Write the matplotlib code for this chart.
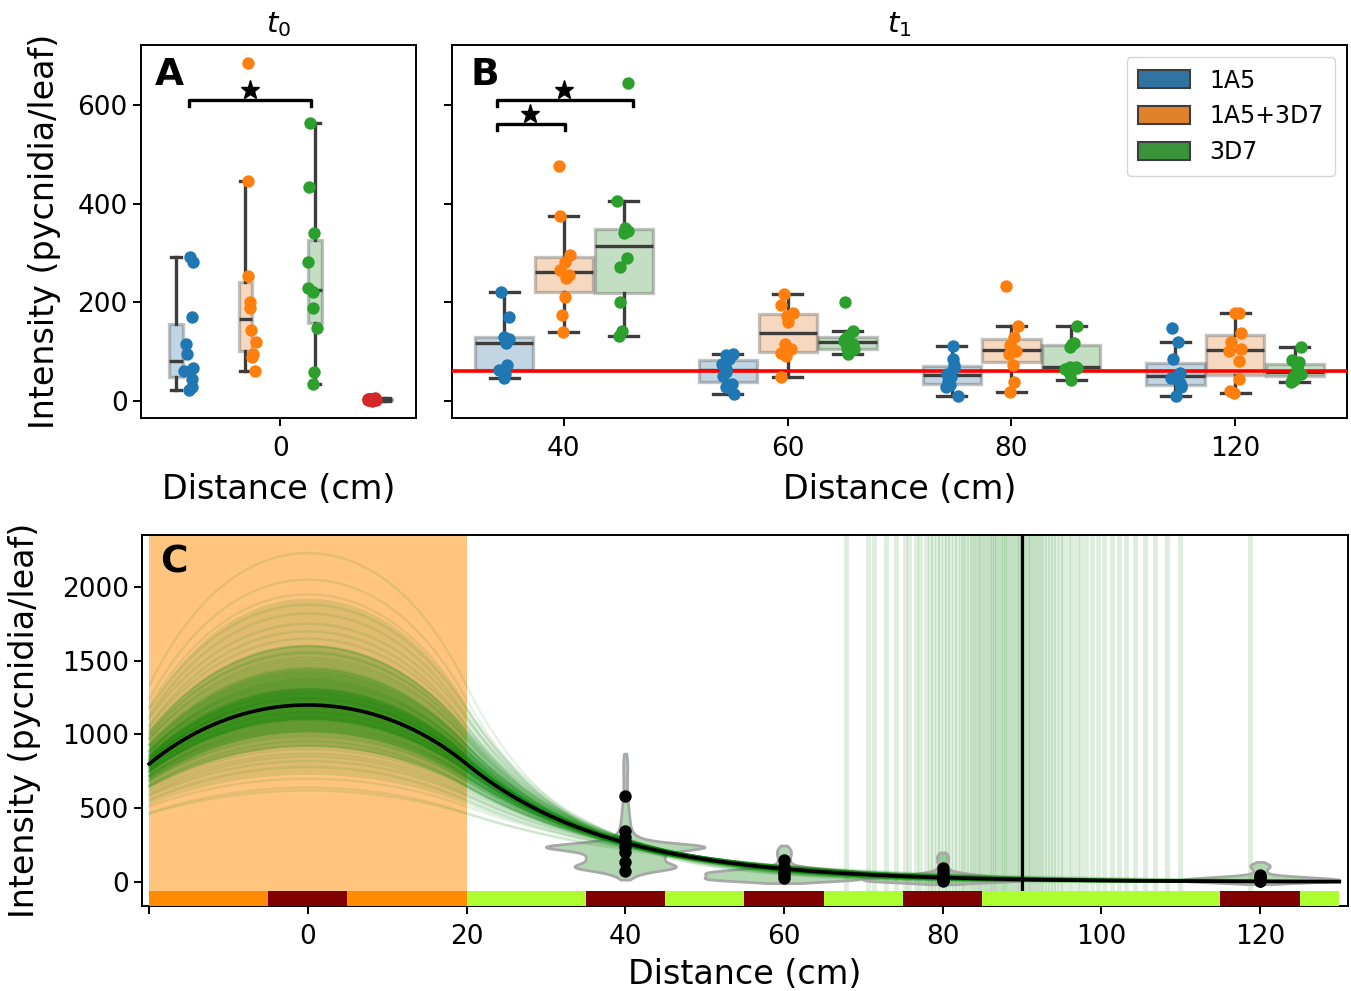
import numpy as np
import matplotlib.pyplot as plt
from matplotlib.colors import to_rgba
from matplotlib.patches import Patch

plt.rcParams['font.family'] = 'DejaVu Sans'
plt.rcParams['axes.linewidth'] = 1.4
plt.rcParams['xtick.major.width'] = 1.4
plt.rcParams['ytick.major.width'] = 1.4
plt.rcParams['xtick.major.size'] = 6
plt.rcParams['ytick.major.size'] = 6
plt.rcParams['xtick.major.pad'] = 7
plt.rcParams['xtick.labelsize'] = 19
plt.rcParams['ytick.labelsize'] = 19
plt.rcParams['axes.labelsize'] = 24

# ---- panel A : t0, all at distance 0 ----
strains = ['1A5', '1A5+3D7', '3D7']
t0_1a5 = [291, 282, 169, 115, 95, 66, 60, 44, 27, 22]
t0_mix = [686, 445, 253, 201, 189, 144, 119, 95, 89, 61]
t0_3d7 = [564, 434, 340, 282, 228, 220, 189, 147, 59, 34]
t0_ctrl = [2, 4, 1, 3, 5, 2, 0, 3, 1, 4]

# ---- panel B : t1 at 40/60/80/120 cm ----
t1_labels = ['40', '60', '80', '120']
t1_1a5 = [[220, 170, 130, 126, 117, 73, 63, 54, 47],
          [95, 92, 85, 75, 65, 58, 50, 35, 27, 14],
          [111, 84, 73, 66, 55, 48, 40, 32, 27, 9],
          [147, 120, 84, 57, 53, 46, 37, 30, 28, 10]]
t1_mix = [[476, 374, 296, 282, 266, 255, 249, 211, 174, 140],
          [216, 195, 178, 172, 160, 115, 105, 97, 91, 49],
          [232, 152, 130, 114, 105, 100, 95, 72, 38, 17],
          [179, 178, 137, 120, 105, 100, 80, 44, 20, 16]]
t1_3d7 = [[645, 405, 350, 345, 340, 289, 271, 200, 142, 132],
          [200, 142, 131, 125, 122, 115, 108, 105, 100, 95],
          [151, 118, 115, 110, 69, 68, 67, 65, 55, 43],
          [109, 82, 78, 68, 60, 58, 55, 48, 42, 38]]
threshold = 60

# ---- panel C : dispersal gradient ----
c_dist = [40, 60, 80, 120]
c_obs = [[584, 347, 306, 272, 239, 205, 138, 74],
         [149, 104, 70, 47, 25],
         [95, 70, 50, 35, 20, 10, 5],
         [50, 35, 25, 15, 8, 3]]
c_violin = [[30, 42, 52, 60, 67, 73, 78, 82, 86, 89, 92, 95, 98, 101, 104, 107, 110, 113,
             116, 120, 124, 128, 132, 136, 140, 144, 148, 152, 156, 160, 164, 168, 172,
             176, 180, 184, 188, 192, 196, 200, 203, 206, 209, 212, 215, 218, 221, 223,
             225, 227, 229, 231, 233, 235, 237, 239, 241, 243, 245, 247, 249, 251, 253,
             255, 258, 261, 264, 268, 272, 277, 283, 290, 298, 310, 325, 345, 370, 400,
             435, 475, 520, 590, 680, 770, 835],
            [2, 6, 10, 14, 18, 22, 26, 30, 34, 38, 42, 46, 50, 54, 58, 62, 66, 70, 74,
             79, 85, 92, 100, 130, 180, 222],
            [-8, -4, 0, 3, 6, 9, 12, 15, 18, 21, 24, 27, 30, 34, 38, 43, 49, 56, 64, 92,
             140, 180],
            [-8, -4, 0, 3, 6, 9, 12, 15, 18, 21, 24, 28, 32, 37, 43, 66, 100, 118]]
c_bw = [14, 10, 8, 7]

peaks = [1200, 1150, 1250, 1100, 1300, 1050, 1350, 1180, 1220, 1120,
         1280, 1080, 1320, 1010, 1400, 1160, 1240, 960, 1450, 1140,
         1260, 1030, 1370, 1190, 1210, 990, 1480, 1130, 1270, 1060,
         1330, 1170, 930, 1520, 1090, 1290, 1230, 1020, 1420, 1110,
         1310, 1200, 900, 1560, 1070, 1340, 1150, 1250, 980, 1380,
         870, 1600, 1040, 1460, 1190, 850, 1650, 1000, 1500, 1120,
         820, 1700, 950, 1550, 780, 1750, 1280, 920, 1820, 700,
         1880, 1360, 640, 1950, 1100, 2050, 620, 2230, 1240, 1600]
decays = [18.0, 19.3, 17.2, 19.8, 16.9, 20.4, 17.6, 17.9, 18.7, 18.4,
          18.1, 18.9, 16.6, 20.9, 17.3, 18.0, 18.5, 20.1, 15.8, 19.5,
          17.1, 20.6, 16.3, 18.9, 17.5, 21.1, 16.7, 18.3, 18.2, 19.0,
          16.5, 19.2, 21.9, 15.2, 19.9, 16.9, 18.6, 19.4, 17.1, 18.5,
          17.9, 18.8, 22.3, 15.0, 18.9, 17.7, 18.1, 17.2, 21.2, 16.2,
          22.8, 14.9, 20.5, 15.7, 17.7, 21.8, 15.6, 19.7, 16.6, 19.6,
          23.5, 14.3, 20.2, 16.2, 22.9, 15.1, 16.9, 22.0, 13.8, 25.9,
          14.4, 16.4, 25.8, 13.2, 19.8, 12.7, 27.9, 12.2, 18.4, 16.0]
mean_peak = 1200
mean_decay = 18.2
source_half = 20

front_samples = [67.8, 70.6, 71.4, 72.9, 74.1, 75.3, 75.8, 76.6, 77.2, 77.9, 78.4, 78.8,
                 79.3, 79.7, 80.2, 80.6, 80.9, 81.4, 81.8, 82.3, 82.6, 83.0, 83.3, 83.7,
                 84.0, 84.3, 84.6, 84.9, 85.2, 85.5, 85.8, 86.1, 86.4, 86.6, 86.9, 87.2,
                 87.5, 87.7, 88.0, 88.3, 88.6, 88.9, 89.2, 89.5, 89.8, 90.3, 90.6, 90.9,
                 91.2, 91.5, 91.8, 92.1, 92.4, 92.8, 93.1, 93.5, 93.9, 94.3, 94.8, 95.2,
                 95.8, 96.3, 96.9, 97.4, 98.1, 98.8, 99.6, 100.4, 101.3, 102.2, 103.1,
                 104.2, 105.5, 106.8, 108.3, 109.9, 118.8]
front_mean = 90

strip_edges = [-20, -5, 5, 20, 35, 45, 55, 65, 75, 85, 115, 125, 130]
strip_colors = ['darkorange', 'maroon', 'darkorange', 'greenyellow', 'maroon', 'greenyellow',
                'maroon', 'greenyellow', 'maroon', 'greenyellow', 'maroon', 'greenyellow']

dot_colors = ['#1f77b4', '#ff7f0e', '#2ca02c', '#d62728']
box_colors = ['#3274a1', '#e1812c', '#3a923a', '#c03d3e']
line_grey = '#3d3d3d'

rng = np.random.default_rng(7)  # only used for strip jitter


def boxes(ax, data, pos, width, color, capw):
    bp = ax.boxplot(data, positions=pos, widths=width, patch_artist=True, showfliers=False,
                    manage_ticks=False, capwidths=capw,
                    boxprops=dict(linewidth=2.4),
                    medianprops=dict(color=line_grey, linewidth=2.4),
                    whiskerprops=dict(color=line_grey, linewidth=2.4),
                    capprops=dict(color=line_grey, linewidth=2.4))
    for b in bp['boxes']:
        b.set_facecolor(to_rgba(color, 0.3))
        b.set_edgecolor(to_rgba(line_grey, 0.3))
        b.set_zorder(2)


def strip(ax, x, vals, color, spread):
    xs = x + rng.uniform(-spread, spread, len(vals))
    ax.scatter(xs, vals, s=80, color=color, linewidths=0, zorder=4)


def bracket(ax, x1, x2, y, h, star_x):
    ax.plot([x1, x1, x2, x2], [y - h, y, y, y - h], color='black', lw=2.4, zorder=5)
    ax.plot(star_x, y + 20, marker='*', color='black', ms=14, zorder=5)


def gradient(x, peak, L, s=source_half):
    ax_ = np.abs(x)
    inside = 2 - np.exp(-(x + s) / L) - np.exp(-(s - x) / L)
    outside = np.exp(-(ax_ - s) / L) - np.exp(-(ax_ + s) / L)
    shape = np.where(ax_ <= s, inside, outside)
    return peak * shape / (2 - 2 * np.exp(-s / L))


def adaptive_kde(v, grid, h0):
    # Abramson-style: wider kernels where the pilot density is low
    pilot = np.exp(-0.5 * ((v[:, None] - v[None, :]) / h0) ** 2).sum(axis=1) / h0
    h = h0 * np.sqrt(pilot.max() / pilot)
    k = np.exp(-0.5 * ((grid[:, None] - v[None, :]) / h[None, :]) ** 2) / h[None, :]
    return k.sum(axis=1)


fig = plt.figure(figsize=(13.51, 9.91), dpi=100)
axA = fig.add_axes([0.1044, 0.5782, 0.2036, 0.3764])
axB = fig.add_axes([0.3346, 0.5782, 0.6625, 0.3764])
axC = fig.add_axes([0.1051, 0.0858, 0.8927, 0.3744])

# ---------- A ----------
a_groups = [t0_1a5, t0_mix, t0_3d7, t0_ctrl]
a_box_pos = [-0.3, -0.1, 0.1, 0.3]
a_dot_pos = [-0.262, -0.086, 0.094, 0.266]
for i, g in enumerate(a_groups):
    boxes(axA, [g], [a_box_pos[i]], 0.04, box_colors[i], 0.03)
    strip(axA, a_dot_pos[i], g, dot_colors[i], 0.015)
bracket(axA, -0.262, 0.089, 611, 12, -0.086)
axA.set_xlim(-0.4, 0.39)
axA.set_ylim(-35, 722)
axA.set_xticks([0])
axA.set_xticklabels(['0'])
axA.set_yticks([0, 200, 400, 600])
axA.set_xlabel('Distance (cm)', labelpad=8)
axA.set_ylabel('Intensity (pycnidia/leaf)', labelpad=12)
axA.set_title('$t_0$', fontsize=21, pad=9)
axA.text(0.05, 0.893, 'A', transform=axA.transAxes, fontsize=27, fontweight='bold')

# ---------- B ----------
offs = [-0.267, 0, 0.267]
x_cat = np.arange(len(t1_labels))
for i, grp in enumerate([t1_1a5, t1_mix, t1_3d7]):
    boxes(axB, grp, x_cat + offs[i], 0.26, box_colors[i], 0.13)
    for j, vals in enumerate(grp):
        strip(axB, x_cat[j] + offs[i], vals, dot_colors[i], 0.03)
axB.axhline(threshold, color='red', lw=2.6, zorder=3)
bracket(axB, -0.30, 0.307, 610, 12, 0.0)
bracket(axB, -0.30, 0.005, 561, 12, -0.15)
axB.set_xlim(-0.5, 3.5)
axB.set_ylim(-35, 722)
axB.set_xticks(x_cat)
axB.set_xticklabels(t1_labels)
axB.set_yticks([0, 200, 400, 600])
axB.set_yticklabels([])
axB.set_xlabel('Distance (cm)', labelpad=8)
axB.set_title('$t_1$', fontsize=21, pad=9)
axB.text(0.021, 0.893, 'B', transform=axB.transAxes, fontsize=27, fontweight='bold')
handles = [Patch(facecolor=box_colors[i], edgecolor=line_grey, lw=1.5, label=strains[i])
           for i in range(3)]
axB.legend(handles=handles, loc='upper right', fontsize=17, handlelength=2.2,
           handleheight=0.8, borderpad=0.5)

# ---------- C ----------
axC.axvspan(-source_half, source_half, color='darkorange', alpha=0.5, lw=0, zorder=0)
for xf in front_samples:
    axC.axvline(xf, color='green', alpha=0.13, lw=3.5, zorder=1)
axC.axvline(front_mean, color='black', lw=2.4, zorder=3)

for pos, vals, bw in zip(c_dist, c_violin, c_bw):
    v = np.asarray(vals, float)
    grid = np.linspace(v.min() - bw, v.max() + 2.5 * bw, 500)
    dens = adaptive_kde(v, grid, bw)
    dens = dens / dens.max() * 10
    axC.fill_betweenx(grid, pos - dens, pos + dens, facecolor=to_rgba('green', 0.3),
                      edgecolor='#a8a8a8', lw=2, zorder=1.5)

xg = np.linspace(-source_half, 130, 500)
curves = np.array([gradient(xg, p, L) for p, L in zip(peaks, decays)])
# nested credible bands from the posterior curves, then the curves themselves
for lo, hi, a in [(3, 97, 0.12), (10, 90, 0.22), (20, 80, 0.3), (32, 68, 0.35)]:
    axC.fill_between(xg, np.percentile(curves, lo, axis=0), np.percentile(curves, hi, axis=0),
                     color='green', alpha=a, lw=0, zorder=2)
for cv in curves:
    axC.plot(xg, cv, color='green', alpha=0.1, lw=1.8, zorder=2)
axC.plot(xg, gradient(xg, mean_peak, mean_decay), color='black', lw=2.6, zorder=3)

for pos, vals in zip(c_dist, c_obs):
    axC.scatter([pos] * len(vals), vals, s=80, color='black', linewidths=0, zorder=4)

for k in range(len(strip_colors)):
    axC.bar(strip_edges[k], 103, width=strip_edges[k + 1] - strip_edges[k], bottom=-163,
            align='edge', color=strip_colors[k], lw=0, zorder=6)

axC.set_xlim(-20.9, 131.1)
axC.set_ylim(-163, 2353)
axC.set_xticks([-20, 0, 20, 40, 60, 80, 100, 120])
axC.set_xticklabels(['', '0', '20', '40', '60', '80', '100', '120'])
axC.set_yticks([0, 500, 1000, 1500, 2000])
axC.set_xlabel('Distance (cm)', labelpad=6)
axC.set_ylabel('Intensity (pycnidia/leaf)', labelpad=15)
axC.text(0.015, 0.9, 'C', transform=axC.transAxes, fontsize=27, fontweight='bold', zorder=7)

fig.savefig('out.png', dpi=100)
